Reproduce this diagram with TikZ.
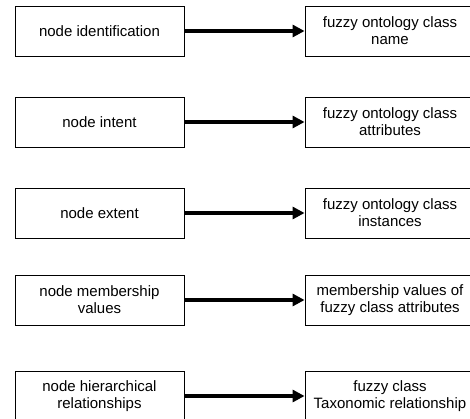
\documentclass[tikz,border=0pt]{standalone}
\usepackage{fontspec}
\setmainfont{Liberation Sans}
\usetikzlibrary{arrows.meta}
\begin{document}
\begin{tikzpicture}[x=1pt, y=-1pt,
    lattbox/.style={draw, line width=0.9pt, minimum width=169pt, minimum height=50pt,
      inner sep=0pt, align=center, font=\fontsize{15}{17}\selectfont},
    ontobox/.style={lattbox, minimum width=170pt},
    maparrow/.style={line width=3.5pt, -{Triangle[length=12pt, width=12pt]}}]
  \useasboundingbox (0,0) rectangle (470,418);
  %
  \node[lattbox] (ident)  at (99.5,31)  {node identification};         % first row
  \node[ontobox] (cname)  at (390,31)   {fuzzy ontology class\\name};
  %
  \node[lattbox] (intent) at (99.5,122) {node intent};                 % second row
  \node[ontobox] (cattr)  at (390,122)  {fuzzy ontology class\\attributes};
  %
  \node[lattbox] (extent) at (99.5,213) {node extent};                 % third row
  \node[ontobox] (cinst)  at (390,213)  {fuzzy ontology class\\instances};
  %
  \node[lattbox] (member) at (99.5,300) {node membership\\values};     % fourth row
  \node[ontobox] (mvals)  at (390,300)  {membership values of\\fuzzy class attributes};
  %
  \node[lattbox] (hier)   at (99.5,396) {node hierarchical\\relationships}; % fifth row
  \node[ontobox] (taxo)   at (390,396)  {fuzzy class\\Taxonomic relationship};
  %
  \draw[maparrow] (ident)  -- (cname);
  \draw[maparrow] (intent) -- (cattr);
  \draw[maparrow] (extent) -- (cinst);
  \draw[maparrow] (member) -- (mvals);
  \draw[maparrow] (hier)   -- (taxo);
  %
\end{tikzpicture}
\end{document}
